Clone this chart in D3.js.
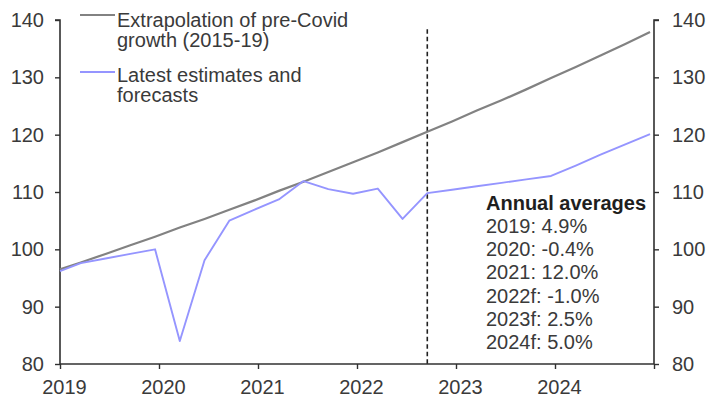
<!DOCTYPE html>
<html>
<head>
<meta charset="utf-8">
<script src="https://cdn.jsdelivr.net/npm/d3@7"></script>
<style>
  html, body { margin: 0; padding: 0; background: #fff; }
  svg { display: block; font-family: "Liberation Sans", Arial, sans-serif; }
</style>
</head>
<body>
<svg id="chart" width="707" height="400"></svg>
<script>
// Quarterly observation dates (decimal years), first point sits on the 2019 axis
const periods = [
  2019.00, 2019.21, 2019.46, 2019.71, 2019.96,
  2020.21, 2020.46, 2020.71, 2020.96,
  2021.21, 2021.46, 2021.71, 2021.96,
  2022.21, 2022.46, 2022.71, 2022.96,
  2023.21, 2023.46, 2023.71, 2023.96,
  2024.21, 2024.46, 2024.71, 2024.96
];

// Extrapolation of pre-Covid growth (2015-19)
const trendValues = [
  96.5, 97.7, 99.2, 100.7, 102.2,
  103.8, 105.3, 106.9, 108.5,
  110.2, 111.8, 113.5, 115.2,
  116.9, 118.7, 120.5, 122.3,
  124.2, 126.0, 127.9, 129.9,
  131.8, 133.8, 135.8, 137.9
];

// Latest estimates and forecasts
const latestValues = [
  96.2, 97.6, 98.4, 99.2, 100.0,
  84.0, 98.1, 105.0, 106.9,
  108.7, 111.9, 110.5, 109.7,
  110.6, 105.3, 109.8, 110.4,
  111.0, 111.6, 112.2, 112.8,
  114.6, 116.5, 118.3, 120.1
];

const yearTicks = [2019, 2020, 2021, 2022, 2023, 2024];
const yTicks = [80, 90, 100, 110, 120, 130, 140];
const forecastStart = 2022.71;

const seriesNames = [
  ["Extrapolation of pre-Covid", "growth (2015-19)"],
  ["Latest estimates and", "forecasts"]
];
const annotationTitle = "Annual averages";
const annualAverages = [
  "2019: 4.9%", "2020: -0.4%", "2021: 12.0%",
  "2022f: -1.0%", "2023f: 2.5%", "2024f: 5.0%"
];

const colors = { trend: "#828282", latest: "#9595ff", axis: "#303030", text: "#3a3a3a" };

const svg = d3.select("#chart");
const plot = { left: 60, right: 654, top: 20, bottom: 364 };

const x = d3.scaleLinear().domain([2019, 2025]).range([plot.left, plot.right]);
const y = d3.scaleLinear().domain([80, 140]).range([plot.bottom, plot.top]);

const fontSize = 20;

// Axes
const axisLeft = d3.axisLeft(y).tickValues(yTicks).tickSize(5).tickPadding(11);
const axisRight = d3.axisRight(y).tickValues(yTicks).tickSize(5).tickPadding(13);
const axisBottom = d3.axisBottom(x).tickValues(yearTicks.concat([2025])).tickSize(5)
  .tickFormat(d => d === 2025 ? "" : d3.format("d")(d)).tickPadding(11);

function styleAxis(g) {
  g.selectAll("path.domain").attr("stroke", colors.axis).attr("stroke-width", 1.6);
  g.selectAll(".tick line").attr("stroke", colors.axis).attr("stroke-width", 1.4);
  g.selectAll(".tick text").attr("fill", colors.text)
    .style("font-size", fontSize + "px").style("font-family", "Liberation Sans, Arial, sans-serif");
}

svg.append("g").attr("transform", `translate(${plot.left},0)`).call(axisLeft).call(styleAxis)
  .selectAll("path.domain").attr("d", `M-5,${plot.top}H0V${plot.bottom}`);
svg.append("g").attr("transform", `translate(${plot.right},0)`).call(axisRight).call(styleAxis)
  .selectAll("path.domain").attr("d", `M5,${plot.top}H0V${plot.bottom}`);
const gx = svg.append("g").attr("transform", `translate(0,${plot.bottom})`).call(axisBottom).call(styleAxis);
gx.selectAll("path.domain").attr("d", `M${plot.left},0H${plot.right}`);
gx.selectAll(".tick text").attr("dx", 4);

// Forecast boundary
svg.append("line")
  .attr("x1", x(forecastStart)).attr("x2", x(forecastStart))
  .attr("y1", y(138.4)).attr("y2", y(80))
  .attr("stroke", "#202020").attr("stroke-width", 1.6)
  .attr("stroke-dasharray", "4.5,3");

// Series lines
const line = vals => d3.line().x((d, i) => x(periods[i])).y(d => y(d))(vals);

svg.append("path").attr("d", line(trendValues))
  .attr("fill", "none").attr("stroke", colors.trend).attr("stroke-width", 2.2);
svg.append("path").attr("d", line(latestValues))
  .attr("fill", "none").attr("stroke", colors.latest).attr("stroke-width", 1.9)
  .attr("stroke-linejoin", "round");

// Legend
const legend = svg.append("g").attr("class", "legend");
const legendRows = [
  { color: colors.trend, width: 2.2, lineY: 15, baselines: [26.5, 46.5], text: seriesNames[0] },
  { color: colors.latest, width: 1.9, lineY: 72, baselines: [82, 102], text: seriesNames[1] }
];
legendRows.forEach(r => {
  legend.append("line").attr("x1", 80).attr("x2", 115).attr("y1", r.lineY).attr("y2", r.lineY)
    .attr("stroke", r.color).attr("stroke-width", r.width);
  r.text.forEach((t, i) => {
    legend.append("text").attr("x", 117).attr("y", r.baselines[i])
      .attr("fill", colors.text).style("font-size", fontSize + "px").text(t);
  });
});

// Annual averages box
const note = svg.append("g");
note.append("text").attr("x", 486).attr("y", 210)
  .attr("fill", "#1e1e1e").style("font-size", "20px").style("font-weight", "bold")
  .text(annotationTitle);
annualAverages.forEach((t, i) => {
  note.append("text").attr("x", 486).attr("y", 233 + i * 23.2)
    .attr("fill", colors.text).style("font-size", fontSize + "px").text(t);
});
</script>
</body>
</html>
